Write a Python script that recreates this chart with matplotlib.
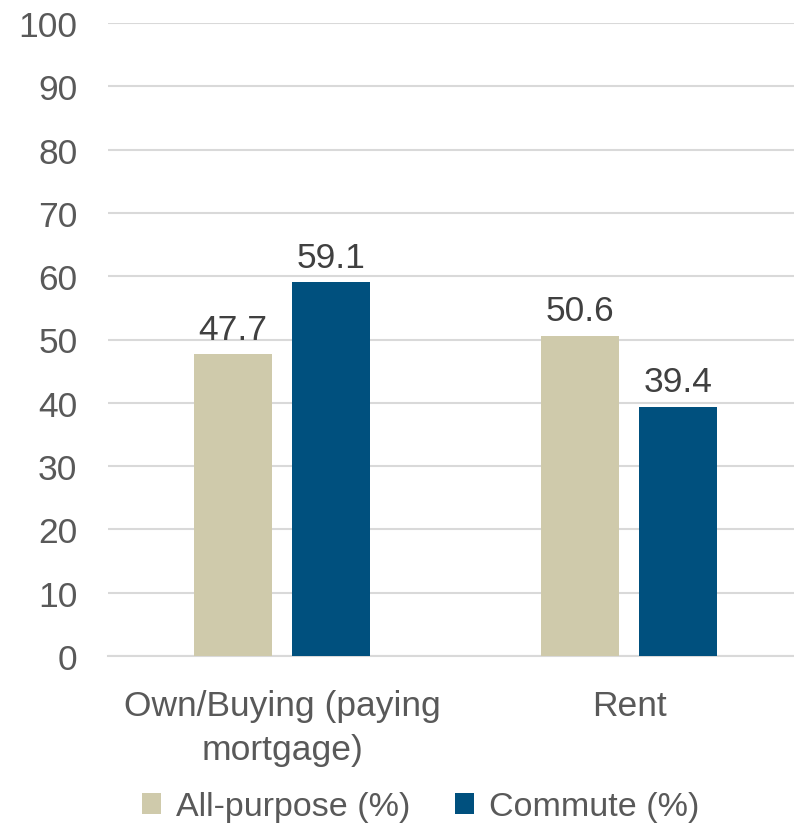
import matplotlib
matplotlib.use("Agg")
import matplotlib.pyplot as plt
import numpy as np

categories = ["Own/Buying (paying\nmortgage)", "Rent"]
series_names = ["All-purpose (%)", "Commute (%)"]
all_purpose = [47.7, 50.6]
commute = [59.1, 39.4]
colors = ["#CFCAAB", "#00507E"]

plt.rcParams['font.family'] = ['Liberation Sans', 'DejaVu Sans']
FS = 25.5

fig = plt.figure(figsize=(7.94, 8.29), dpi=100)
ax = fig.add_axes([108/794, 1 - 657/829, (794-108)/794, (657-24)/829])

x = np.arange(len(categories))
w = 0.225
off = 0.142
b1 = ax.bar(x - off, all_purpose, w, color=colors[0], label=series_names[0], zorder=3)
b2 = ax.bar(x + off, commute, w, color=colors[1], label=series_names[1], zorder=3)
for bars in (b1, b2):
    ax.bar_label(bars, fmt="%.1f", padding=6, fontsize=FS, color="#404040")

ax.set_ylim(0, 100)
ax.set_yticks(range(0, 101, 10))
ax.set_xlim(-0.502, 1.475)
ax.set_xticks(x)
ax.set_xticklabels(categories, fontsize=FS, color="#595959", linespacing=1.42)
ax.tick_params(axis='y', labelsize=FS, labelcolor="#595959", length=0, pad=22)
ax.tick_params(axis='x', length=0, pad=24)
ax.grid(axis='y', color="#D9D9D9", linewidth=1.5, zorder=0)
for s in ["top", "right", "left"]:
    ax.spines[s].set_visible(False)
ax.spines["bottom"].set_color("#D9D9D9")
ax.spines["bottom"].set_linewidth(1.5)

fig.legend(handles=[b1, b2], labels=series_names, loc="center", bbox_to_anchor=(0.53, 1 - 808/829),
           ncol=2, frameon=False, fontsize=24.5, labelcolor="#595959", handlelength=0.55, handleheight=0.55,
           handletextpad=0.45, columnspacing=1.3)

fig.savefig("out.png", dpi=100)
